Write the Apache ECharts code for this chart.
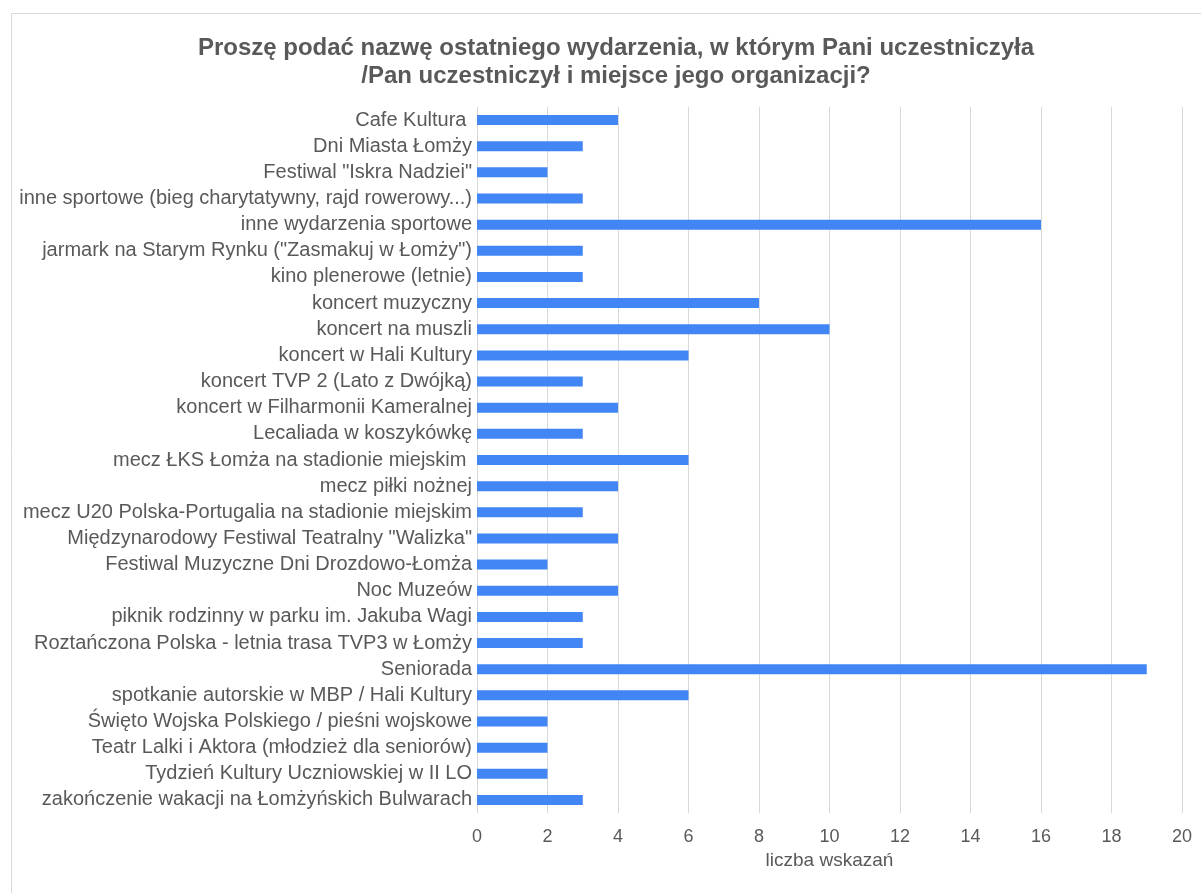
<!DOCTYPE html>
<html>
<head>
<meta charset="utf-8">
<script src="https://cdn.jsdelivr.net/npm/echarts@6/dist/echarts.min.js"></script>
<style>
html,body{margin:0;padding:0;background:#fff;}
#c{width:1201px;height:893px;}
</style>
</head>
<body>
<div id="c"></div>
<script>
const titleText = 'Proszę podać nazwę ostatniego wydarzenia, w którym Pani uczestniczyła\n/Pan uczestniczył i miejsce jego organizacji?';
const axisName = 'liczba wskazań';
const categories = [
  'Cafe Kultura ',
  'Dni Miasta Łomży',
  'Festiwal "Iskra Nadziei"',
  'inne sportowe (bieg charytatywny, rajd rowerowy...)',
  'inne wydarzenia sportowe',
  'jarmark na Starym Rynku ("Zasmakuj w Łomży")',
  'kino plenerowe (letnie)',
  'koncert muzyczny',
  'koncert na muszli',
  'koncert w Hali Kultury',
  'koncert TVP 2 (Lato z Dwójką)',
  'koncert w Filharmonii Kameralnej',
  'Lecaliada w koszykówkę',
  'mecz ŁKS Łomża na stadionie miejskim ',
  'mecz piłki nożnej',
  'mecz U20 Polska-Portugalia na stadionie miejskim',
  'Międzynarodowy Festiwal Teatralny "Walizka"',
  'Festiwal Muzyczne Dni Drozdowo-Łomża',
  'Noc Muzeów',
  'piknik rodzinny w parku im. Jakuba Wagi',
  'Roztańczona Polska - letnia trasa TVP3 w Łomży',
  'Seniorada',
  'spotkanie autorskie w MBP / Hali Kultury',
  'Święto Wojska Polskiego / pieśni wojskowe',
  'Teatr Lalki i Aktora (młodzież dla seniorów)',
  'Tydzień Kultury Uczniowskiej w II LO',
  'zakończenie wakacji na Łomżyńskich Bulwarach'
];
const values = [4,3,2,3,16,3,3,8,10,6,3,4,3,6,4,3,4,2,4,3,3,19,6,2,2,2,3];

const FONT = 'Liberation Sans, Arial, sans-serif';
const chart = echarts.init(document.getElementById('c'));
chart.setOption({
  animation: false,
  backgroundColor: '#fff',
  graphic: [{
    type: 'rect', left: 9, top: 11, shape: {width: 1210, height: 900},
    style: {fill: 'none', stroke: '#d9d9d9', lineWidth: 1}, silent: true
  }],
  title: {
    text: titleText, left: 611, textAlign: 'center', top: 29,
    textStyle: {fontFamily: FONT, fontSize: 24, fontWeight: 'bold', color: '#595959', lineHeight: 28}
  },
  grid: {left: 477, right: 19, top: 107, bottom: 80, containLabel: false},
  xAxis: {
    type: 'value', min: 0, max: 20, interval: 2,
    name: axisName, nameLocation: 'middle', nameGap: 38,
    nameTextStyle: {fontFamily: FONT, fontSize: 19, color: '#595959'},
    axisLine: {show: false}, axisTick: {show: false},
    axisLabel: {fontFamily: FONT, fontSize: 18, color: '#595959', margin: 15},
    splitLine: {show: true, lineStyle: {color: '#d9d9d9', width: 1}}
  },
  yAxis: {
    type: 'category', data: categories, inverse: true,
    axisLine: {show: false}, axisTick: {show: false},
    axisLabel: {fontFamily: FONT, fontSize: 20, color: '#595959', margin: 5, interval: 0}
  },
  series: [{
    type: 'bar', data: values, barWidth: 10,
    itemStyle: {color: '#4285f4'}
  }]
});
</script>
</body>
</html>
